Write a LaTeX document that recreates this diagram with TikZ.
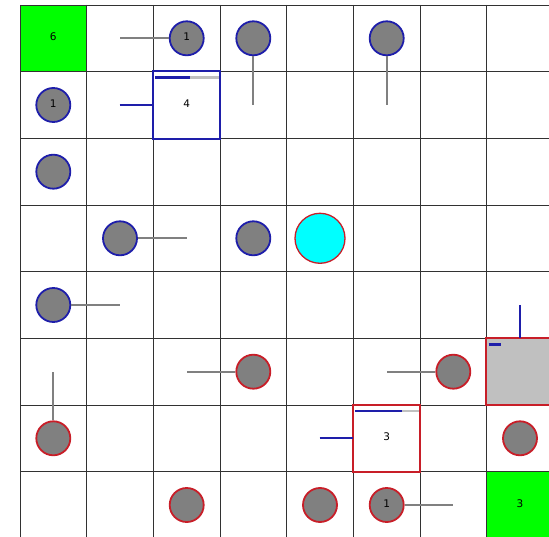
\documentclass[tikz,border=0pt]{standalone}
\usepackage{fontspec}
\setmainfont{DejaVu Sans}
\definecolor{gridc}{RGB}{50,50,50}
\definecolor{bluec}{RGB}{30,30,170}
\definecolor{redc}{RGB}{200,30,40}
\definecolor{agray}{RGB}{128,128,128}
\definecolor{boxgray}{RGB}{192,192,192}
\definecolor{linegray}{RGB}{128,128,128}
\definecolor{goal}{RGB}{0,255,0}
\definecolor{cyanc}{RGB}{0,255,255}
\tikzset{
  agent/.style={circle, draw, fill=agray, minimum size=34pt, inner sep=0pt, line width=1.8pt,
     font=\fontsize{10.5}{11}\selectfont},
  bagent/.style={agent, draw=bluec},
  ragent/.style={agent, draw=redc},
  goalcell/.style={rectangle, fill=goal, minimum size=66.7pt, inner sep=0pt, font=\fontsize{10.5}{11}\selectfont},
  basebox/.style={rectangle, minimum size=66.7pt, inner sep=0pt, font=\fontsize{10.5}{11}\selectfont},
  boxedge/.style={line width=2pt},
  gline/.style={draw=linegray, line width=1.7pt},
  bline/.style={draw=bluec, line width=2pt},
  barbg/.style={draw=boxgray, line width=2.8pt},
  barfg/.style={draw=bluec, line width=2.8pt},
}
\newcommand{\rt}[1]{\raisebox{3pt}{#1}}
\begin{document}
\begin{tikzpicture}[x=1pt,y=-1pt]
\useasboundingbox (0,0) rectangle (549,537);
\clip (0,0) rectangle (549,537);
\fill[white] (0,0) rectangle (549,537);
% goal cells
\node[goalcell] (g1) at (53.3,38.3) {\rt{6}};
\node[goalcell] (g2) at (520,505) {\rt{3}};
% grid
\foreach \p in {20.5,86.5,153.5,220.5,286.5,353.5,420.5,486.5} {
  \draw[gridc, line width=1pt] (\p,5) -- (\p,540);
}
\foreach \p in {5.5,71.5,138.5,205.5,271.5,338.5,405.5,471.5} {
  \draw[gridc, line width=1pt] (20,\p) -- (560,\p);
}
% free line ends
\coordinate (e1) at (119.5,38.3);
\coordinate (e2) at (253.3,105);
\coordinate (e3) at (386.7,105);
\coordinate (e4) at (186.7,238.3);
\coordinate (e5) at (120,305);
\coordinate (e6) at (186.7,371.7);
\coordinate (e7) at (386.7,371.7);
\coordinate (e8) at (53.3,371.7);
\coordinate (e9) at (453.3,505);
\coordinate (e10) at (119.5,105);
\coordinate (e11) at (319.5,438.3);
\coordinate (e12) at (520,305);
% boxes
\node[basebox, fill=white] (b1) at (186.7,105) {\rt{4}};
\node[basebox, fill=white] (b2) at (386.7,438.3) {\rt{3}};
\node[basebox, fill=boxgray] (b3) at (520,371.7) {};
\draw[boxedge, bluec] (b1.north west) rectangle (b1.south east);
\draw[boxedge, redc] (b2.north west) rectangle (b2.south east);
\draw[boxedge, redc] (b3.north west) rectangle (b3.south east);
% box bars
\draw[barbg] (155,77.5) -- (218.5,77.5);
\draw[barfg] (155,77.5) -- (189.5,77.5);
\draw[barbg] (355,411) -- (418.5,411);
\draw[barfg] (355,411) -- (402,411);
\draw[barfg] (488.5,344.3) -- (500.5,344.3);
% connectors for boxes
\draw[bline] (e10) -- (b1.west);
\draw[bline] (e11) -- (b2.west);
\draw[bline] (e12) -- (b3.north);
% agents
\node[bagent] (a1) at (186.7,38.3) {\rt{1}};
\node[bagent] (a2) at (253.3,38.3) {};
\node[bagent] (a3) at (386.7,38.3) {};
\node[bagent] (a4) at (53.3,105) {\rt{1}};
\node[bagent] (a5) at (53.3,171.7) {};
\node[bagent] (a6) at (120,238.3) {};
\node[bagent] (a7) at (253.3,238.3) {};
\node[circle, draw=redc, fill=cyanc, minimum size=50pt, inner sep=0pt, line width=1.3pt] (a8) at (320,238.3) {};
\node[bagent] (a9) at (53.3,305) {};
\node[ragent] (a10) at (253.3,371.7) {};
\node[ragent] (a11) at (453.3,371.7) {};
\node[ragent] (a12) at (53.3,438.3) {};
\node[ragent] (a13) at (520,438.3) {};
\node[ragent] (a14) at (186.7,505) {};
\node[ragent] (a15) at (320,505) {};
\node[ragent] (a16) at (386.7,505) {\rt{1}};
% agent connectors
\draw[gline] (a1) -- (e1);
\draw[gline] (a2) -- (e2);
\draw[gline] (a3) -- (e3);
\draw[gline] (a6) -- (e4);
\draw[gline] (a9) -- (e5);
\draw[gline] (a10) -- (e6);
\draw[gline] (a11) -- (e7);
\draw[gline] (a12) -- (e8);
\draw[gline] (a16) -- (e9);
\end{tikzpicture}
\end{document}
